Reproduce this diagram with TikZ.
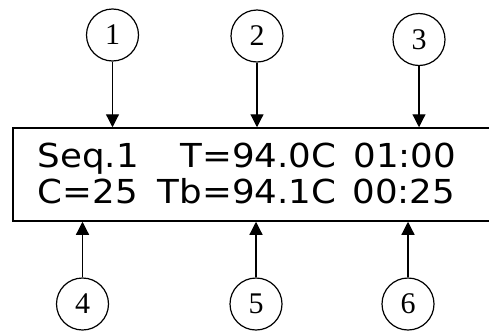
\documentclass[tikz,border=0pt]{standalone}
\usepackage{fontspec}
\setmainfont{Liberation Serif}
\newfontfamily\lcdfont[FakeStretch=1.08]{DejaVu Sans}
\usetikzlibrary{shapes,arrows.meta}
\tikzstyle{callout} = [draw, circle, line width=1.2pt, minimum size=52pt,
inner sep=0pt, font=\fontsize{30}{30}\selectfont]
\tikzstyle{display} = [draw, rectangle, line width=1.5pt,
minimum width=560pt, minimum height=93pt]
\tikzstyle{lcdtext} = [inner sep=0pt, anchor=base west, font=\lcdfont\fontsize{33}{33}\selectfont]

\begin{document}
\begin{tikzpicture}[x=1pt, y=-1pt, line width=1.2pt, >={Triangle[width=13pt,length=13pt]}]
\useasboundingbox (0,0) rectangle (489,332);
\clip (0,0) rectangle (489,332);

% We start by placing the display, its right side runs off the page
\node [display] (lcd) at (293,174.5) {};

% The two lines of the display
\node [lcdtext] (seq) at (37,167) {Seq.1};
\node [lcdtext, anchor=base east] (temp) at (337,167) {T=94.0C};
\node [lcdtext] (time) at (353,167) {01:00};
\node [lcdtext] (cycle) at (37,203) {C=25};
\node [lcdtext, anchor=base east] (block) at (337,203) {Tb=94.1C};
\node [lcdtext] (left) at (352,203) {00:25};

% The numbered callouts
\node [callout] (n1) at (112.5,35) {1};
\node [callout] (n2) at (257,36) {2};
\node [callout] (n3) at (419,39.5) {3};
\node [callout] (n4) at (82.5,304) {4};
\node [callout] (n5) at (256,304) {5};
\node [callout] (n6) at (408,304) {6};

% Once the nodes are placed, pointing at the display is easy.
\draw [->] (n1) -- (n1 |- lcd.north);
\draw [->] (n2) -- (n2 |- lcd.north);
\draw [->] (n3) -- (n3 |- lcd.north);
\draw [->] (n4) -- (n4 |- lcd.south);
\draw [->] (n5) -- (n5 |- lcd.south);
\draw [->] (n6) -- (n6 |- lcd.south);
\end{tikzpicture}
\end{document}
